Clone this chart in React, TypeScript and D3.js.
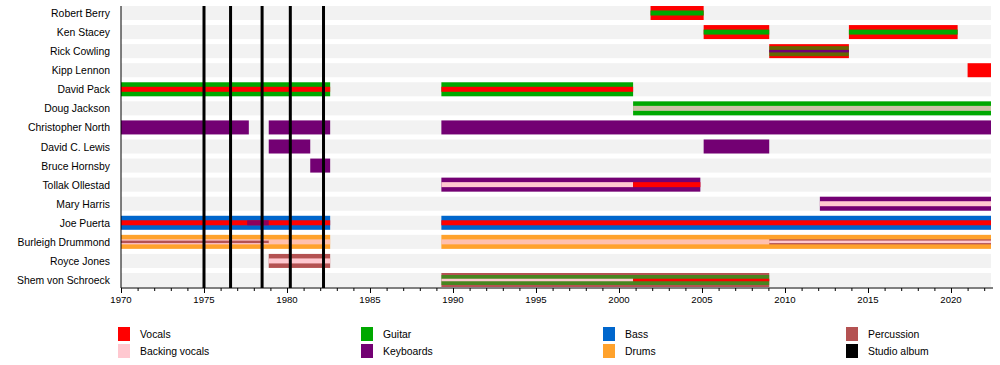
import React, { useRef, useEffect } from "react";
import * as d3 from "d3";

// band members, top to bottom
const members = [
  "Robert Berry",
  "Ken Stacey",
  "Rick Cowling",
  "Kipp Lennon",
  "David Pack",
  "Doug Jackson",
  "Christopher North",
  "David C. Lewis",
  "Bruce Hornsby",
  "Tollak Ollestad",
  "Mary Harris",
  "Joe Puerta",
  "Burleigh Drummond",
  "Royce Jones",
  "Shem von Schroeck",
];

const roles = [
  "Vocals",
  "Backing vocals",
  "Guitar",
  "Keyboards",
  "Bass",
  "Drums",
  "Percussion",
  "Studio album",
];

const roleColors: Record<string, string> = {
  Vocals: "#ff0000",
  "Backing vocals": "#ffc8d0",
  Guitar: "#00a800",
  Keyboards: "#730073",
  Bass: "#0066cc",
  Drums: "#ffa22c",
  Percussion: "#b45252",
  "Studio album": "#000000",
};

const studioAlbums = [1975.0, 1976.6, 1978.5, 1980.2, 1982.2];

const yearTicks = [1970, 1975, 1980, 1985, 1990, 1995, 2000, 2005, 2010, 2015, 2020];
const timeStart = 1970;
const timeEnd = 2022.41;

type Period = [string, number, number, string];

// main role: [member, from, to, role]
const mainRoles: Period[] = [
  ["Robert Berry", 2001.9, 2005.1, "Vocals"],
  ["Ken Stacey", 2005.1, 2009.05, "Vocals"],
  ["Ken Stacey", 2013.85, 2020.4, "Vocals"],
  ["Rick Cowling", 2009.05, 2013.85, "Vocals"],
  ["Kipp Lennon", 2021.0, timeEnd, "Vocals"],
  ["David Pack", 1970, 1982.6, "Guitar"],
  ["David Pack", 1989.3, 2000.85, "Guitar"],
  ["Doug Jackson", 2000.85, timeEnd, "Guitar"],
  ["Christopher North", 1970, 1977.7, "Keyboards"],
  ["Christopher North", 1978.9, 1982.6, "Keyboards"],
  ["Christopher North", 1989.3, timeEnd, "Keyboards"],
  ["David C. Lewis", 1978.9, 1981.4, "Keyboards"],
  ["David C. Lewis", 2005.1, 2009.05, "Keyboards"],
  ["Bruce Hornsby", 1981.4, 1982.6, "Keyboards"],
  ["Tollak Ollestad", 1989.3, 2004.9, "Keyboards"],
  ["Mary Harris", 2012.1, timeEnd, "Keyboards"],
  ["Joe Puerta", 1970, 1982.6, "Bass"],
  ["Joe Puerta", 1989.3, timeEnd, "Bass"],
  ["Burleigh Drummond", 1970, 1982.6, "Drums"],
  ["Burleigh Drummond", 1989.3, timeEnd, "Drums"],
  ["Royce Jones", 1978.9, 1982.6, "Percussion"],
  ["Shem von Schroeck", 1989.3, 2009.05, "Percussion"],
];

// instruments shared with the main role (wide, see-through)
const sharedInstruments: Period[] = [
  ["Rick Cowling", 2009.05, 2013.85, "Guitar"],
  ["Shem von Schroeck", 1989.3, 2009.05, "Guitar"],
];

// second role (middle stripe)
const secondRoles: Period[] = [
  ["Robert Berry", 2001.9, 2005.1, "Guitar"],
  ["Ken Stacey", 2005.1, 2009.05, "Guitar"],
  ["Ken Stacey", 2013.85, 2020.4, "Guitar"],
  ["David Pack", 1970, 1982.6, "Vocals"],
  ["David Pack", 1989.3, 2000.85, "Vocals"],
  ["Tollak Ollestad", 1989.3, 2000.85, "Backing vocals"],
  ["Tollak Ollestad", 2000.85, 2004.9, "Vocals"],
  ["Mary Harris", 2012.1, timeEnd, "Backing vocals"],
  ["Joe Puerta", 1970, 1982.6, "Vocals"],
  ["Joe Puerta", 1989.3, timeEnd, "Vocals"],
  ["Burleigh Drummond", 1970, 1978.9, "Backing vocals"],
  ["Burleigh Drummond", 2009.05, timeEnd, "Percussion"],
  ["Royce Jones", 1978.9, 1982.6, "Backing vocals"],
];

// occasional second roles, drawn see-through
const occasionalRoles: Period[] = [
  ["Doug Jackson", 2000.85, timeEnd, "Backing vocals"],
  ["Burleigh Drummond", 1978.9, 1982.6, "Backing vocals"],
  ["Burleigh Drummond", 1989.3, 2009.05, "Backing vocals"],
  ["Joe Puerta", 1977.6, 1978.9, "Keyboards"],
];

// third role (thin centre stripe)
const thirdRoles: Period[] = [
  ["Rick Cowling", 2009.05, 2013.85, "Keyboards"],
  ["Burleigh Drummond", 2009.05, timeEnd, "Backing vocals"],
  ["Burleigh Drummond", 1970, 1978.9, "Percussion"],
  ["Shem von Schroeck", 1989.3, 2000.85, "Backing vocals"],
  ["Shem von Schroeck", 2000.85, 2009.05, "Vocals"],
];

function App() {
  const svgRef = useRef<SVGSVGElement>(null);

  useEffect(() => {
    document.body.style.margin = "0";
    const svg = d3.select(svgRef.current);
    svg.selectAll("*").remove();

    const left = 121;
    const right = 991;
    const axisY = 288;
    const font = "'Liberation Sans', Arial, sans-serif";

    const x = d3.scaleLinear().domain([timeStart, timeEnd]).range([left, right]);
    const y = d3.scalePoint<string>().domain(members).range([13, 280]);
    const rowH = 14;

    const g = svg.append("g");

    // row backgrounds
    g.selectAll(".row-bg")
      .data(members)
      .enter()
      .append("rect")
      .attr("x", left)
      .attr("y", (d) => (y(d) as number) - rowH / 2)
      .attr("width", right - left)
      .attr("height", rowH)
      .attr("fill", "#f2f2f2");

    // member labels
    g.selectAll(".name")
      .data(members)
      .enter()
      .append("text")
      .attr("x", 110)
      .attr("y", (d) => (y(d) as number) + 4)
      .attr("text-anchor", "end")
      .attr("font-family", font)
      .attr("font-size", "10.4px")
      .attr("fill", "#000")
      .text((d) => d);

    const drawLayer = (data: Period[], h: number, opacity: number) => {
      g.append("g")
        .selectAll("rect")
        .data(data)
        .enter()
        .append("rect")
        .attr("x", (d) => x(d[1]))
        .attr("y", (d) => (y(d[0]) as number) - h / 2)
        .attr("width", (d) => x(d[2]) - x(d[1]))
        .attr("height", h)
        .attr("fill", (d) => roleColors[d[3]])
        .attr("fill-opacity", opacity);
    };

    drawLayer(mainRoles, 14, 1);
    drawLayer(sharedInstruments, 10, 0.6);
    drawLayer(secondRoles, 5, 1);
    drawLayer(occasionalRoles, 5, 0.8);
    drawLayer(thirdRoles, 2.5, 1);

    // studio albums
    g.selectAll(".album")
      .data(studioAlbums)
      .enter()
      .append("line")
      .attr("x1", (d) => x(d))
      .attr("x2", (d) => x(d))
      .attr("y1", 6)
      .attr("y2", axisY)
      .attr("stroke", "#000")
      .attr("stroke-width", 3);

    // left edge
    g.append("line")
      .attr("x1", left)
      .attr("x2", left)
      .attr("y1", 6)
      .attr("y2", axisY)
      .attr("stroke", "#000")
      .attr("stroke-width", 1);

    // time axis
    const axis = g.append("g").attr("transform", `translate(0, ${axisY})`);
    axis
      .append("line")
      .attr("x1", left)
      .attr("x2", right + 2)
      .attr("stroke", "#000");
    axis
      .selectAll(".minor")
      .data(d3.range(1970, 2023))
      .enter()
      .append("line")
      .attr("x1", (d) => x(d) + 0.5)
      .attr("x2", (d) => x(d) + 0.5)
      .attr("y1", 0)
      .attr("y2", (d) => (d % 5 === 0 ? 5 : 3))
      .attr("stroke", "#000");
    axis
      .selectAll(".tick-label")
      .data(yearTicks)
      .enter()
      .append("text")
      .attr("x", (d) => x(d))
      .attr("y", 15)
      .attr("text-anchor", "middle")
      .attr("font-family", font)
      .attr("font-size", "9.6px")
      .attr("fill", "#000")
      .text((d) => d);

    // legend, 4 columns x 2 rows
    const legend = g.append("g");
    const colX = [118, 361, 603, 846];
    const rowY = [327, 344];
    roles.forEach((r, i) => {
      const cx = colX[Math.floor(i / 2)];
      const cy = rowY[i % 2];
      legend
        .append("rect")
        .attr("x", cx)
        .attr("y", cy)
        .attr("width", 12)
        .attr("height", 14)
        .attr("fill", roleColors[r]);
      legend
        .append("text")
        .attr("x", cx + 22)
        .attr("y", cy + 11)
        .attr("font-family", font)
        .attr("font-size", "10.4px")
        .attr("fill", "#000")
        .text(r);
    });
  }, []);

  return <svg ref={svgRef} width={1000} height={365} style={{ display: "block" }} />;
}

export default App;
